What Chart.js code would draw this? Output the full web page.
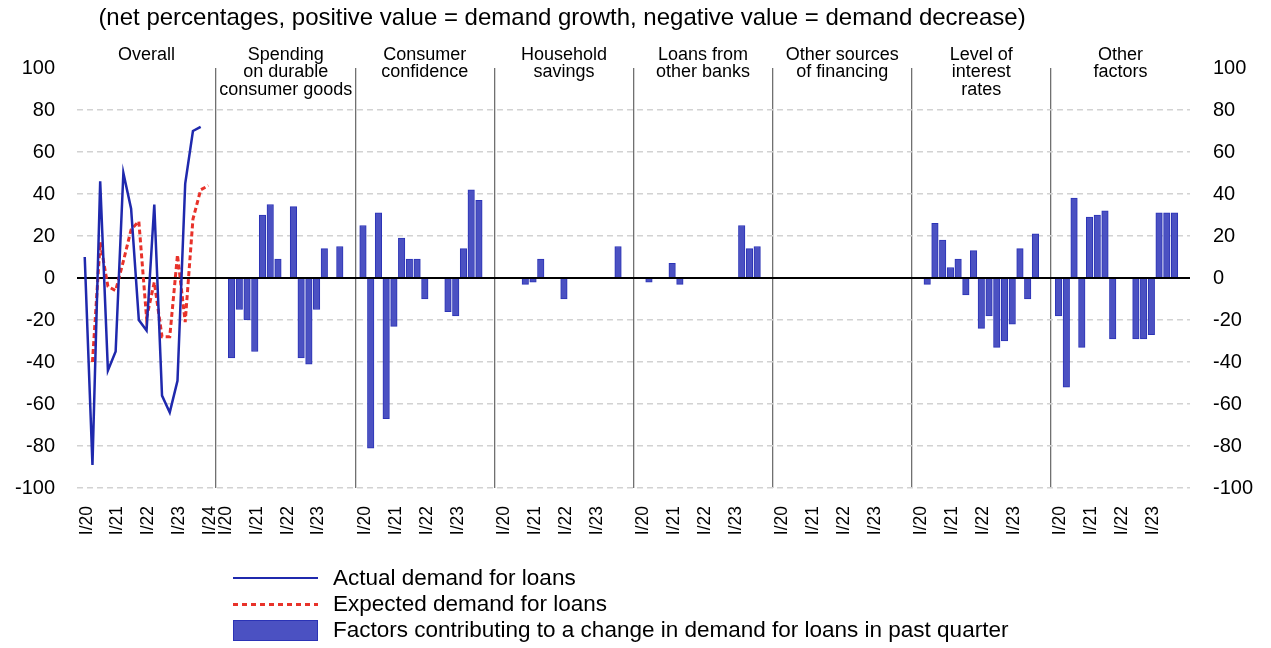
<!DOCTYPE html>
<html>
<head>
<meta charset="utf-8">
<script src="https://cdn.jsdelivr.net/npm/chart.js@4/dist/chart.umd.min.js"></script>
<style>
  body { margin: 0; background: #fff; font-family: "Liberation Sans", Arial, sans-serif; }
  #wrap { position: relative; width: 1271px; height: 648px; }
  #legend { position: absolute; left: 233px; top: 565px; color: #000; font-size: 22.5px; }
  .item { position: relative; height: 26px; }
  .item span { position: absolute; left: 100px; top: 0; line-height: 26px; white-space: nowrap; }
  .sample { position: absolute; left: 0; width: 85px; }
</style>
</head>
<body>
<div id="wrap">
  <canvas id="chart"></canvas>
  <div id="legend">
    <div class="item"><div class="sample" style="top:12px;height:2px;background:#1f29ad"></div><span>Actual demand for loans</span></div>
    <div class="item"><div class="sample" style="top:12px;height:3px;background:repeating-linear-gradient(to right,#e8322a 0 5px,transparent 5px 9px)"></div><span>Expected demand for loans</span></div>
    <div class="item"><div class="sample" style="top:3px;height:21px;background:#4b51c2;border:1px solid #2b33b6;box-sizing:border-box"></div><span>Factors contributing to a change in demand for loans in past quarter</span></div>
  </div>
</div>
<script>
// quarters shown in every panel (I/24 only used by the expected line)
const quarters = ['I/20', 'II/20', 'III/20', 'IV/20', 'I/21', 'II/21', 'III/21', 'IV/21',
  'I/22', 'II/22', 'III/22', 'IV/22', 'I/23', 'II/23', 'III/23', 'IV/23', 'I/24'];
const tickQuarters = ['I/20', 'I/21', 'I/22', 'I/23'];

const panelTitles = [
  ['Overall'],
  ['Spending', 'on durable', 'consumer goods'],
  ['Consumer', 'confidence'],
  ['Household', 'savings'],
  ['Loans from', 'other banks'],
  ['Other sources', 'of financing'],
  ['Level of', 'interest', 'rates'],
  ['Other', 'factors']
];

// overall panel
const actualDemand = [10, -89, 46, -44, -35, 50, 33, -20, -25, 35, -56, -64, -49, 45, 70, 72];
const expectedDemand = [null, -40, 17, -4, -6, 8, 23, 27, -19, -2, -28, -28, 11, -21, 28, 42, 44];

// factors, I/20 .. IV/23
const spendingDurable = [null, -38, -15, -20, -35, 30, 35, 9, null, 34, -38, -41, -15, 14, null, 15];
const consumerConfidence = [25, -81, 31, -67, -23, 19, 9, 9, -10, null, null, -16, -18, 14, 42, 37];
const householdSavings = [null, null, null, -3, -2, 9, null, null, -10, null, null, null, null, null, null, 15];
const loansOtherBanks = [null, -2, null, null, 7, -3, null, null, null, null, null, null, null, 25, 14, 15];
const otherSources = [null, null, null, null, null, null, null, null, null, null, null, null, null, null, null, null];
const interestRates = [null, -3, 26, 18, 5, 9, -8, 13, -24, -18, -33, -30, -22, 14, -10, 21];
const otherFactors = [-18, -52, 38, -33, 29, 30, 32, -29, null, null, -29, -29, -27, 31, 31, 31];

const factorPanels = [spendingDurable, consumerConfidence, householdSavings, loansOtherBanks,
  otherSources, interestRates, otherFactors];

const yTicks = [-100, -80, -60, -40, -20, 0, 20, 40, 60, 80, 100];

const SLOTS = 18; // slots per panel on the shared x scale
const FONT = '"Liberation Sans", Arial, sans-serif';

function slot(panel, qi) { return panel * SLOTS + 1 + qi; }

const toPoints = (arr, panel) => arr.map((v, i) => v === null ? null : { x: slot(panel, i), y: v })
  .filter(p => p !== null);

let barPoints = [];
factorPanels.forEach((arr, p) => { barPoints = barPoints.concat(toPoints(arr, p + 1)); });

// x ticks: quarter labels + panel dividers
const tickLabels = {};
const dividers = [];
for (let p = 0; p < panelTitles.length; p++) {
  tickQuarters.forEach(q => { tickLabels[slot(p, quarters.indexOf(q))] = q; });
  if (p > 0) dividers.push(p * SLOTS);
}
tickLabels[slot(0, quarters.indexOf('I/24'))] = 'I/24';
const xTickValues = Object.keys(tickLabels).map(Number).concat(dividers).sort((a, b) => a - b);

const titlesPlugin = {
  id: 'titles',
  afterDraw(chart) {
    const ctx = chart.ctx;
    const x = chart.scales.x;
    ctx.save();
    ctx.fillStyle = '#000';
    ctx.textAlign = 'center';
    ctx.textBaseline = 'middle';
    ctx.font = '24px ' + FONT;
    ctx.fillText('(net percentages, positive value = demand growth, negative value = demand decrease)', 562, 18);
    ctx.font = '18px ' + FONT;
    panelTitles.forEach((lines, p) => {
      const cx = x.getPixelForValue(p * SLOTS + SLOTS / 2);
      lines.forEach((t, i) => ctx.fillText(t, cx, 55 + i * 17.5));
    });
    ctx.restore();
  }
};

const yTickOpts = {
  stepSize: 20,
  color: '#000',
  font: { size: 20, family: FONT }
};

new Chart(document.getElementById('chart'), {
  type: 'bar',
  data: {
    datasets: [
      {
        type: 'line',
        label: 'Actual demand for loans',
        data: toPoints(actualDemand, 0),
        borderColor: '#1f29ad',
        borderWidth: 2.5,
        pointRadius: 0,
        tension: 0
      },
      {
        type: 'line',
        label: 'Expected demand for loans',
        data: toPoints(expectedDemand, 0),
        borderColor: '#e8322a',
        borderWidth: 3,
        borderDash: [5, 3],
        pointRadius: 0,
        tension: 0
      },
      {
        label: 'Factors contributing to a change in demand for loans in past quarter',
        data: barPoints,
        backgroundColor: '#4b51c2',
        borderColor: '#2b33b6',
        borderWidth: 1,
        barThickness: 6.5
      }
    ]
  },
  options: {
    responsive: true,
    maintainAspectRatio: false,
    animation: false,
    layout: { padding: { top: 68, left: 0, right: 0, bottom: 0 } },
    plugins: {
      legend: { display: false },
      tooltip: { enabled: false }
    },
    scales: {
      x: {
        type: 'linear',
        offset: false,
        min: 0,
        max: SLOTS * panelTitles.length,
        afterBuildTicks: axis => { axis.ticks = xTickValues.map(v => ({ value: v })); },
        afterFit: axis => { axis.height = 160; },
        ticks: {
          autoSkip: false,
          minRotation: 90,
          maxRotation: 90,
          padding: 18,
          labelOffset: 2,
          color: '#000',
          font: { size: 17.5, family: FONT },
          callback: v => tickLabels[v] || ''
        },
        grid: {
          offset: false,
          drawTicks: false,
          color: c => dividers.includes(c.tick && c.tick.value) ? '#707070' : 'rgba(0,0,0,0)',
          lineWidth: 1.3
        },
        border: { display: false }
      },
      y: {
        position: 'left',
        min: -100,
        max: 100,
        afterBuildTicks: axis => { axis.ticks = yTicks.map(v => ({ value: v })); },
        afterFit: axis => { axis.width = 77; },
        ticks: Object.assign({ padding: 22 }, yTickOpts),
        grid: {
          drawTicks: false,
          color: c => c.tick.value === 0 ? '#000' : (c.tick.value === 100 ? 'rgba(0,0,0,0)' : '#d2d2d2'),
          lineWidth: c => c.tick.value === 0 ? 2 : 1.5
        },
        border: { display: false, dash: c => c.tick && c.tick.value === 0 ? [] : [6, 4] }
      },
      y2: {
        position: 'right',
        min: -100,
        max: 100,
        afterBuildTicks: axis => { axis.ticks = yTicks.map(v => ({ value: v })); },
        afterFit: axis => { axis.width = 81; },
        ticks: Object.assign({ padding: 23 }, yTickOpts),
        grid: { drawOnChartArea: false, drawTicks: false },
        border: { display: false }
      }
    }
  },
  plugins: [titlesPlugin]
});
</script>
</body>
</html>
